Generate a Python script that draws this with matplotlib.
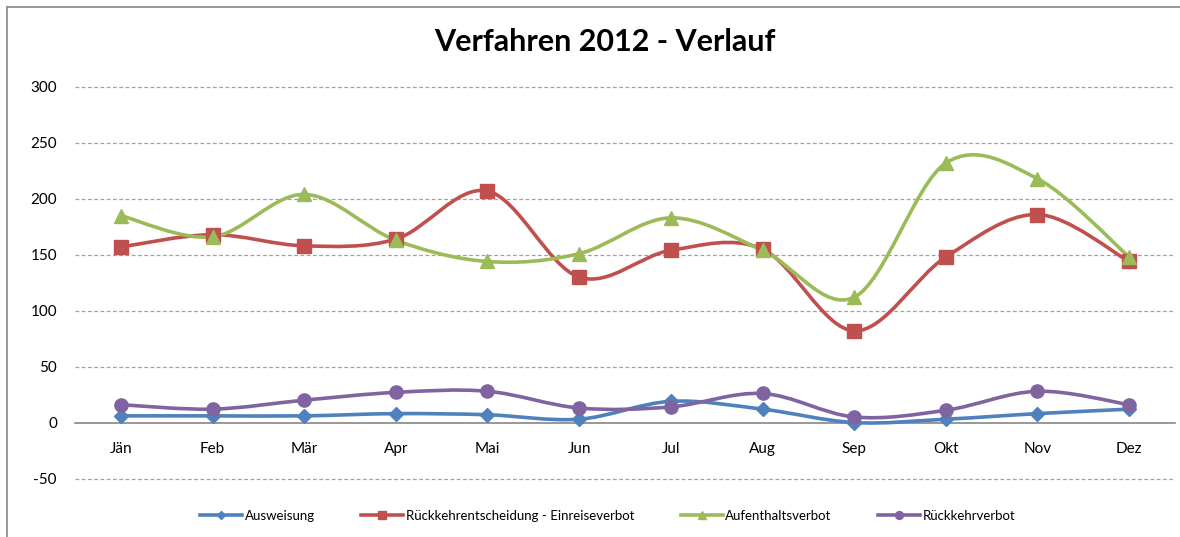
import numpy as np
import matplotlib.pyplot as plt
from matplotlib.path import Path
from matplotlib.patches import PathPatch
from matplotlib.lines import Line2D

plt.rcParams['font.family'] = ['Lato', 'DejaVu Sans']
plt.rcParams['axes.unicode_minus'] = False

# data
months = ["Jän", "Feb", "Mär", "Apr", "Mai", "Jun", "Jul", "Aug", "Sep", "Okt", "Nov", "Dez"]
ausweisung = [6, 6, 6, 8, 7, 3, 19, 12, 0, 3, 8, 12]
rueckkehrentscheidung = [157, 168, 158, 164, 207, 130, 154, 155, 82, 148, 186, 144]
aufenthaltsverbot = [185, 166, 204, 163, 144, 151, 183, 154, 112, 232, 218, 148]
rueckkehrverbot = [16, 12, 20, 27, 28, 13, 14, 26, 5, 11, 28, 16]

series = [
    ("Ausweisung", ausweisung, "#4F81BD", "D", 7),
    ("Rückkehrentscheidung - Einreiseverbot", rueckkehrentscheidung, "#C0504D", "s", 9.5),
    ("Aufenthaltsverbot", aufenthaltsverbot, "#9BBB59", "^", 10),
    ("Rückkehrverbot", rueckkehrverbot, "#8064A2", "o", 9.5),
]


def smooth_path(x, y):
    # Excel style smoothed line: cubic bezier through the points
    x = np.asarray(x, float)
    y = np.asarray(y, float)
    n = len(x)
    verts = [(x[0], y[0])]
    codes = [Path.MOVETO]
    for i in range(n - 1):
        p0 = np.array([x[max(i - 1, 0)], y[max(i - 1, 0)]])
        p1 = np.array([x[i], y[i]])
        p2 = np.array([x[i + 1], y[i + 1]])
        p3 = np.array([x[min(i + 2, n - 1)], y[min(i + 2, n - 1)]])
        c1 = p1 + (p2 - p0) / 6.0
        c2 = p2 - (p3 - p1) / 6.0
        verts += [tuple(c1), tuple(c2), tuple(p2)]
        codes += [Path.CURVE4] * 3
    return Path(verts, codes)


fig = plt.figure(figsize=(11.8, 5.37), dpi=100)
ax = fig.add_axes([75 / 1180, 1 - 478.5 / 537, 1100 / 1180, (478.5 - 87) / 537])

xs = np.arange(len(months))
handles = []
for name, vals, col, mk, ms in series:
    patch = PathPatch(smooth_path(xs, vals), facecolor="none", edgecolor=col,
                      lw=2.6, capstyle="round", joinstyle="round", zorder=3)
    ax.add_patch(patch)
    ax.plot(xs, vals, ls="none", marker=mk, ms=ms, color=col, zorder=4)
    handles.append(Line2D([], [], color=col, lw=2.6, marker=mk, ms=ms * 0.6, label=name))

ax.set_xlim(-0.5, len(months) - 0.5)
ax.set_ylim(-50, 300)
ax.set_yticks(range(-50, 301, 50))
ax.set_xticks(xs)
ax.set_xticklabels(months)

for v in [-50, 50, 100, 150, 200, 250, 300]:
    ax.axhline(v, color="#A0A0A0", lw=0.9, ls=(0, (3, 2)), zorder=1, clip_on=False)

for s in ["top", "right", "left"]:
    ax.spines[s].set_visible(False)
ax.spines["bottom"].set_position(("data", 0))
ax.spines["bottom"].set_color("#868686")
ax.spines["bottom"].set_linewidth(1.2)
ax.spines["bottom"].set_zorder(2)
ax.tick_params(axis="x", length=0, pad=14, labelsize=11)
ax.tick_params(axis="y", length=0, pad=13, labelsize=11)

fig.text(605 / 1180, 1 - 42 / 537, "Verfahren 2012 - Verlauf", ha="center", va="center",
         fontsize=22, fontweight="bold")

fig.legend(handles=handles, loc="center", bbox_to_anchor=(0.515, 1 - 516 / 537), ncol=4,
           frameon=False, fontsize=9.5, handlelength=3.2, handletextpad=0.2, columnspacing=3.5)

# chart frame (left and top edges)
fig.add_artist(Line2D([7 / 1180, 7 / 1180], [0, 1 - 7 / 537], color="#888888", lw=1.2))
fig.add_artist(Line2D([7 / 1180, 1], [1 - 7 / 537, 1 - 7 / 537], color="#888888", lw=1.2))

fig.savefig("out.png", dpi=100)
